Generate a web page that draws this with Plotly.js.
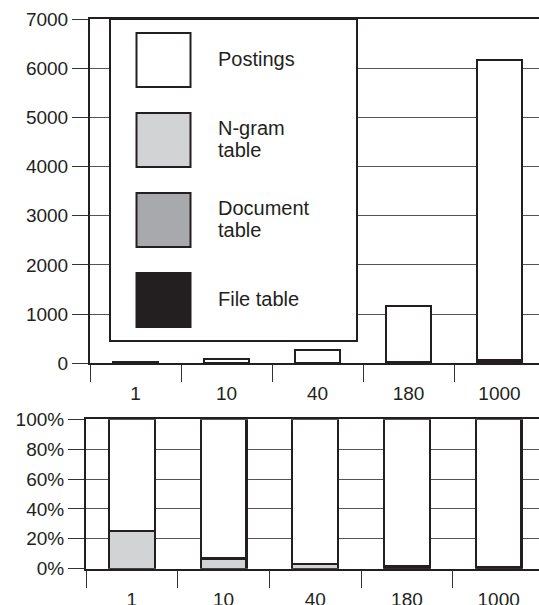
<!DOCTYPE html>
<html>
<head>
<meta charset="utf-8">
<script src="https://cdn.plot.ly/plotly-3.0.1.min.js"></script>
<style>
html,body{margin:0;padding:0;overflow:hidden;background:#fff;}
#chart{width:539px;height:605px;}
</style>
</head>
<body>
<div id="chart"></div>
<script>
// ---- data ----
const categories = ['1', '10', '40', '180', '1000'];
const postings = [12, 74.5, 267, 1138, 6100];
const ngramTable = [4, 5.5, 8, 0, 0];
const documentTable = [0, 0, 0, 0, 0];
const fileTable = [0, 0, 0, 22, 60];
const sizeTicks = [0, 1000, 2000, 3000, 4000, 5000, 6000, 7000];
const pctTicks = [0, 20, 40, 60, 80, 100];
const pctLabels = ['0%', '20%', '40%', '60%', '80%', '100%'];
const seriesNames = ['Postings', 'N-gram table', 'Document table', 'File table'];
const legendLines = [['Postings'], ['N-gram', 'table'], ['Document', 'table'], ['File table']];

// ---- styles ----
const W = 539, H = 605;
const INK = '#231f20';
const colors = { 'File table': '#231f20', 'Document table': '#a7a9ac', 'N-gram table': '#d1d3d4', 'Postings': '#ffffff' };
const FONT = 'Liberation Sans, Arial, Helvetica, sans-serif';

const totals = categories.map((c, i) => postings[i] + ngramTable[i] + documentTable[i] + fileTable[i]);
const pct = arr => arr.map((v, i) => v / totals[i] * 100);

const stackOrder = [
  ['File table', fileTable],
  ['Document table', documentTable],
  ['N-gram table', ngramTable],
  ['Postings', postings]
];

const traces = [];
stackOrder.forEach(([name, vals]) => {
  const marker = { color: colors[name], line: { color: INK, width: 2.2 } };
  traces.push({ type: 'bar', name, x: categories, y: vals, xaxis: 'x', yaxis: 'y', marker, hoverinfo: 'skip' });
  traces.push({ type: 'bar', name, x: categories, y: pct(vals), xaxis: 'x2', yaxis: 'y2', marker, hoverinfo: 'skip', showlegend: false });
});

const px = x => x / W;
const py = y => 1 - y / H;

const shapes = [];
const annotations = [];
// legend panel
shapes.push({ type: 'rect', xref: 'paper', yref: 'paper', x0: px(110), x1: px(357), y0: py(341), y1: py(19),
  fillcolor: '#ffffff', line: { color: INK, width: 2 }, layer: 'above' });
const legTop = [33, 113, 193, 273];
seriesNames.forEach((name, k) => {
  const t = legTop[k];
  shapes.push({ type: 'rect', xref: 'paper', yref: 'paper', x0: px(136.5), x1: px(190.5), y0: py(t + 54), y1: py(t),
    fillcolor: colors[name], line: { color: INK, width: 2 }, layer: 'above' });
  const lines = legendLines[k];
  const mid = t + 26;
  const offs = lines.length === 1 ? [0] : [-11, 11];
  lines.forEach((txt, j) => {
    annotations.push({ xref: 'paper', yref: 'paper', x: px(216), y: py(mid + offs[j]), xanchor: 'left', yanchor: 'middle',
      text: txt, showarrow: false, font: { family: FONT, size: 20, color: INK } });
  });
});

const xCommon = {
  type: 'category', tickson: 'boundaries', ticks: 'outside', ticklen: 17, tickwidth: 1, tickcolor: '#333',
  showline: true, linewidth: 2, linecolor: INK, mirror: true, showgrid: false, zeroline: false,
  ticklabelstandoff: 12,
  tickfont: { family: FONT, size: 19, color: INK }, fixedrange: true, automargin: false
};
const yCommon = {
  ticks: 'outside', tickwidth: 1, tickcolor: '#333', showgrid: true, gridcolor: '#555', gridwidth: 1,
  showline: true, linewidth: 2, linecolor: INK, zeroline: false,
  tickfont: { family: FONT, size: 19, color: INK }, fixedrange: true, automargin: false
};

const layout = {
  width: W, height: H,
  margin: { l: 0, r: 0, t: 0, b: 0, pad: 0 },
  paper_bgcolor: '#ffffff', plot_bgcolor: '#ffffff',
  showlegend: false,
  barmode: 'stack', bargap: 0.5,
  font: { family: FONT, color: INK },
  xaxis: Object.assign({}, xCommon, { domain: [px(90), 1], anchor: 'y', range: [-0.5, 4.434] }),
  yaxis: Object.assign({}, yCommon, { domain: [py(363.3), py(19)], anchor: 'x', range: [0, 7000], tickvals: sizeTicks, ticktext: sizeTicks.map(String), ticklen: 16 }),
  xaxis2: Object.assign({}, xCommon, { domain: [px(86), 1], anchor: 'y2', range: [-0.5, 4.44] }),
  yaxis2: Object.assign({}, yCommon, { domain: [py(568.7), py(419.3)], anchor: 'x2', range: [0, 100], tickvals: pctTicks, ticktext: pctLabels, ticklen: 16 }),
  shapes, annotations
};

Plotly.newPlot('chart', traces, layout, { displayModeBar: false, staticPlot: true });
</script>
</body>
</html>
